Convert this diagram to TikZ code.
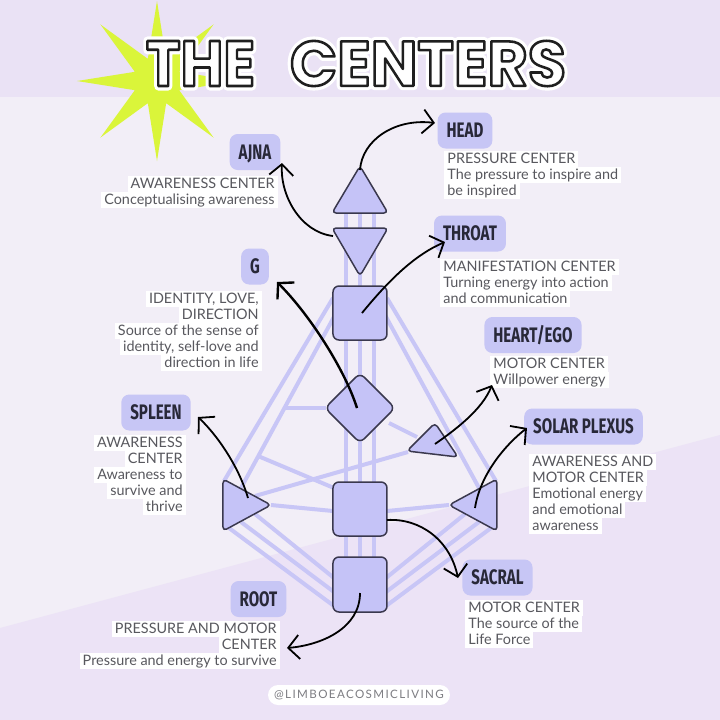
\documentclass[tikz,border=0pt]{standalone}
\usepackage{fontspec}
\usetikzlibrary{arrows.meta,calc}
\newfontfamily\titlefont{Poppins}
\newfontfamily\labfont{Fira Sans}[FakeStretch=0.72]
\newfontfamily\descfont{Lato}
\newfontfamily\footfont{Lato}[LetterSpace=12]
\definecolor{bgmid}{RGB}{242,238,247}
\definecolor{bghead}{RGB}{234,226,245}
\definecolor{bglow}{RGB}{236,227,246}
\definecolor{starc}{RGB}{218,245,58}
\definecolor{chanc}{RGB}{200,198,246}
\definecolor{shapec}{RGB}{197,195,247}
\definecolor{shapeline}{RGB}{58,56,78}
\definecolor{labc}{RGB}{199,198,245}
\definecolor{labtext}{RGB}{40,40,56}
\definecolor{desctext}{RGB}{88,88,94}
\definecolor{foottext}{RGB}{125,125,130}
\newcommand\ttlbox[3]{\resizebox{#1}{22.5pt}{\fontsize{32}{36}\selectfont\special{pdf:literal direct #2}#3\special{pdf:literal direct 0 Tr}}}
\begin{document}
\begin{tikzpicture}[x=0.5pt,y=-0.5pt,
  chan/.style={draw=chanc, line width=2pt},
  ctr/.style={fill=shapec, draw=shapeline, line width=0.75pt, rounded corners=2pt, line join=round},
  lab/.style={fill=labc, rounded corners=4pt, font=\labfont\bfseries\fontsize{10.5}{12}\selectfont, text=labtext, inner xsep=4.5pt, inner ysep=0pt, minimum height=18pt, text height=7.3pt, text depth=0pt},
  dl/.style={anchor=base west, fill=white, font=\descfont\fontsize{7.2}{8}\selectfont, text=desctext, inner xsep=1.5pt, inner ysep=0pt, text height=6pt, text depth=2pt},
  dr/.style={dl, anchor=base east},
  arr/.style={line width=0.9pt, draw=black, -{Straight Barb[length=5.5pt,width=12pt]}},
  ttl/.style={font=\titlefont\bfseries, inner sep=0pt, text=white}]
\useasboundingbox (0,0) rectangle (720,720);
% background
\fill[bgmid] (0,0) rectangle (720,720);
\fill[bghead] (0,0) rectangle (720,97);
\fill[bglow] (0,628) -- (720,435) -- (720,720) -- (0,720) -- cycle;
% star
\coordinate (sc) at (157,81);
\fill[starc] ($(sc)+(90:40pt)$) \foreach \k in {0,...,7}{ -- ($(sc)+({112.5+45*\k}:12pt)$) -- ($(sc)+({135+45*\k}:40pt)$)} -- cycle;
% title: white halo, then white letters with a dark outline
\coordinate (t1) at (200.5,63.5);
\coordinate (t2) at (428,63.5);
\node[ttl] (halo1) at (t1) {\ttlbox{54.5pt}{1 1 1 RG 4.5 w 1 j 1 Tr}{THE}};
\node[ttl] (halo2) at (t2) {\ttlbox{138pt}{1 1 1 RG 4.5 w 1 j 1 Tr}{CENTERS}};
\node[ttl] (title1) at (t1) {\ttlbox{54.5pt}{0.12 0.12 0.12 RG 1.3 w 1 j 2 Tr}{THE}};
\node[ttl] (title2) at (t2) {\ttlbox{138pt}{0.12 0.12 0.12 RG 1.3 w 1 j 2 Tr}{CENTERS}};
% channels
\foreach \xx in {346,360,374} \draw[chan] (\xx,213) -- (\xx,557);
\draw[chan] (333,298) -- (224,481);
\draw[chan] (335,315) -- (241,488);
\draw[chan] (326,408) -- (285,408);
\draw[chan] (258,456) -- (334,488);
\draw[chan] (408,452) -- (255,496);
\draw[chan] (271,505) -- (333,511);
\draw[chan] (229,528) -- (334,606);
\draw[chan] (241,522) -- (334,592);
\draw[chan] (255,514) -- (334,578);
\draw[chan] (387,298) -- (496,481);
\draw[chan] (385,315) -- (479,488);
\draw[chan] (389,423) -- (417,437);
\draw[chan] (449,505) -- (387,511);
\draw[chan] (491,528) -- (386,606);
\draw[chan] (479,522) -- (386,592);
\draw[chan] (465,514) -- (386,578);
% centers
\filldraw[ctr] (360,166) -- (388,213) -- (332,213) -- cycle;
\filldraw[ctr] (332,228) -- (388,228) -- (360,276) -- cycle;
\filldraw[ctr,rounded corners=3pt] (333,286) rectangle (387,340);
\filldraw[ctr,rounded corners=3pt] (360,373) -- (395,408) -- (360,443) -- (325,408) -- cycle;
\filldraw[ctr] (435,423) -- (458,457) -- (407,451) -- cycle;
\filldraw[ctr] (223,479) -- (271,505) -- (223,531) -- cycle;
\filldraw[ctr] (497,479) -- (497,531) -- (449,505) -- cycle;
\filldraw[ctr,rounded corners=3pt] (333,482) rectangle (387,536);
\filldraw[ctr,rounded corners=3pt] (333,557) rectangle (387,612);
% labels
\node[lab] (head) at (465,130.5) {HEAD};
\node[lab] (ajna) at (255,152) {AJNA};
\node[lab] (throat) at (470,233.5) {THROAT};
\node[lab] (g) at (255,266.5) {G};
\node[lab] (heart) at (533,335) {HEART/EGO};
\node[lab] (solar) at (583.5,426.5) {SOLAR PLEXUS};
\node[lab] (spleen) at (156,412.5) {SPLEEN};
\node[lab] (sacral) at (497.5,577.5) {SACRAL};
\node[lab] (root) at (258.5,599) {ROOT};
% descriptions
\node[dl] (hd1) at (444,163) {PRESSURE CENTER};
\node[dl] (hd2) at (444,179) {The pressure to inspire and};
\node[dl] (hd3) at (444,195) {be inspired};
\node[dl] (th1) at (440,271) {MANIFESTATION CENTER};
\node[dl] (th2) at (440,287) {Turning energy into action};
\node[dl] (th3) at (440,303) {and communication};
\node[dl] (he1) at (490,368) {MOTOR CENTER};
\node[dl] (he2) at (490,384) {Willpower energy};
\node[dl] (so1) at (529,466) {AWARENESS AND};
\node[dl] (so2) at (529,482) {MOTOR CENTER};
\node[dl] (so3) at (529,498) {Emotional energy};
\node[dl] (so4) at (529,514) {and emotional};
\node[dl] (so5) at (529,530) {awareness};
\node[dl] (sa1) at (465,612) {MOTOR CENTER};
\node[dl] (sa2) at (465,628) {The source of the};
\node[dl] (sa3) at (465,644) {Life Force};
\node[dr] (aj1) at (278,188) {AWARENESS CENTER};
\node[dr] (aj2) at (278,204) {Conceptualising awareness};
\node[dr] (gd1) at (262,303) {IDENTITY, LOVE,};
\node[dr] (gd2) at (262,319) {DIRECTION};
\node[dr] (gd3) at (262,335) {Source of the sense of};
\node[dr] (gd4) at (262,351) {identity, self-love and};
\node[dr] (gd5) at (262,367) {direction in life};
\node[dr] (sp1) at (186,447) {AWARENESS};
\node[dr] (sp2) at (186,463) {CENTER};
\node[dr] (sp3) at (186,479) {Awareness to};
\node[dr] (sp4) at (186,495) {survive and};
\node[dr] (sp5) at (186,511) {thrive};
\node[dr] (ro1) at (280,633) {PRESSURE AND MOTOR};
\node[dr] (ro2) at (280,649) {CENTER};
\node[dr] (ro3) at (280,665) {Pressure and energy to survive};
% arrows
\coordinate (hs) at (360,170); \coordinate (he) at (435,123);
\draw[arr] (hs) .. controls (362,140) and (395,118) .. (he);
\coordinate (as) at (333,236); \coordinate (ae) at (282,163);
\draw[arr] (as) .. controls (300,232) and (280,195) .. (ae);
\coordinate (ts) at (362,313); \coordinate (te) at (445,242);
\draw[arr] (ts) .. controls (385,285) and (412,256) .. (te);
\coordinate (gs) at (357,408); \coordinate (ge) at (277,282);
\draw[arr,line width=1.2pt] (gs) .. controls (345,370) and (310,315) .. (ge);
\coordinate (es) at (435,444); \coordinate (ee) at (492,385);
\draw[arr] (es) .. controls (455,430) and (482,410) .. (ee);
\coordinate (ps) at (475,508); \coordinate (pe) at (527,428);
\draw[arr] (ps) .. controls (480,475) and (505,445) .. (pe);
\coordinate (ls) at (248,498); \coordinate (le) at (198,417);
\draw[arr] (ls) .. controls (240,470) and (220,438) .. (le);
\coordinate (cs) at (387,520); \coordinate (ce) at (458,578);
\draw[arr] (cs) .. controls (420,518) and (450,540) .. (ce);
\coordinate (rs) at (360,593); \coordinate (re) at (287,648);
\draw[arr] (rs) .. controls (360,628) and (322,645) .. (re);
% footer
\node[fill=white, rounded corners=5pt, minimum width=91pt, minimum height=10pt, inner sep=0pt, font=\footfont\fontsize{5.8}{7}\selectfont, text=foottext] (foot) at (359,695) {@LIMBOEACOSMICLIVING};
\end{tikzpicture}
\end{document}
